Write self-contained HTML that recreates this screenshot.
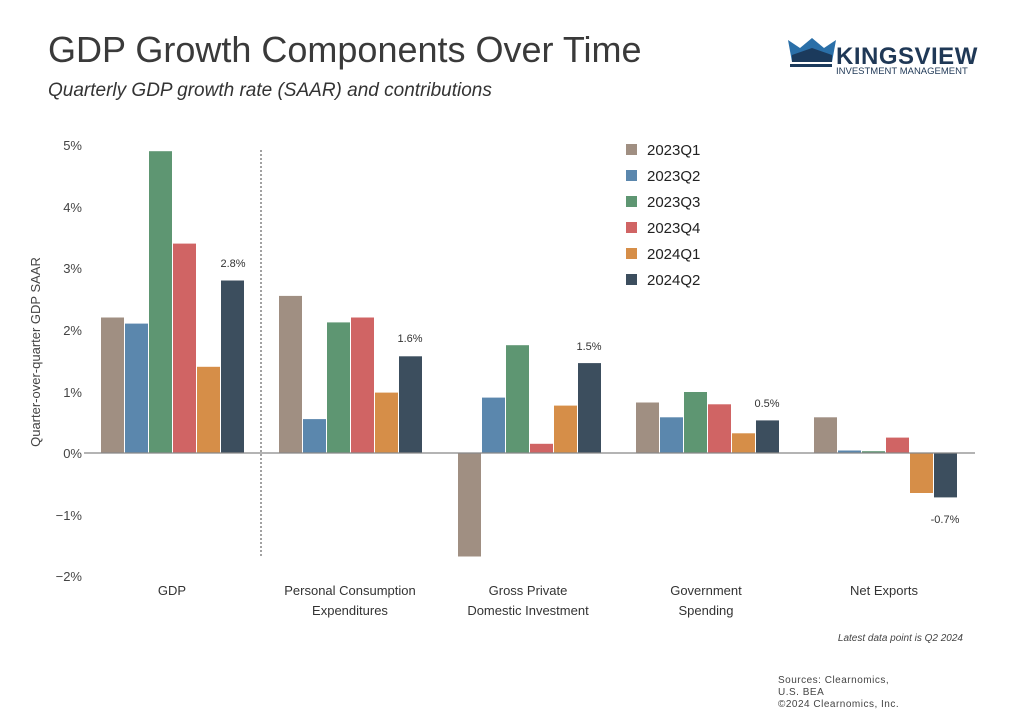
<!DOCTYPE html><html><head><style>body{margin:0;background:#fff}svg{display:block}text{font-family:"Liberation Sans",sans-serif}</style></head><body>
<svg width="1024" height="721" xmlns="http://www.w3.org/2000/svg">
<text x="48" y="62" font-size="36" fill="#3a3a3a">GDP Growth Components Over Time</text>
<text x="48" y="96" font-size="19" font-style="italic" fill="#333">Quarterly GDP growth rate (SAAR) and contributions</text>
<g>
<polygon points="788,40 800,48 812,38 824,48 836,40 832,62 792,62" fill="#2a6fa8"/>
<polygon points="792,55 812,48 832,55 832,62 792,62" fill="#1b3a5c"/>
<rect x="790" y="64" width="42" height="3" fill="#1b3a5c"/>
<text x="836" y="64" font-size="24" font-weight="bold" fill="#1f3856" letter-spacing="0.5">KINGSVIEW</text>
<text x="836" y="74" font-size="9.5" fill="#1f3856">INVESTMENT MANAGEMENT</text>
</g>
<g font-size="13" fill="#444" text-anchor="end">
<text x="82" y="150">5%</text><text x="82" y="212">4%</text><text x="82" y="273">3%</text><text x="82" y="335">2%</text><text x="82" y="397">1%</text><text x="82" y="458">0%</text><text x="82" y="520">−1%</text><text x="82" y="581">−2%</text>
</g>
<text transform="translate(40,352) rotate(-90)" font-size="13" fill="#444" text-anchor="middle">Quarter-over-quarter GDP SAAR</text>
<line x1="261" y1="150" x2="261" y2="556" stroke="#444" stroke-dasharray="2,2"/>
<g>
<rect x="101" y="317.5" width="23" height="135.5" fill="#a08f82"/>
<rect x="125" y="323.6" width="23" height="129.4" fill="#5b87ad"/>
<rect x="149" y="151.2" width="23" height="301.8" fill="#5e9672"/>
<rect x="173" y="243.6" width="23" height="209.4" fill="#d06464"/>
<rect x="197" y="366.8" width="23" height="86.2" fill="#d68e48"/>
<rect x="221" y="280.5" width="23" height="172.5" fill="#3c4e5e"/>
<rect x="279" y="295.9" width="23" height="157.1" fill="#a08f82"/>
<rect x="303" y="419.1" width="23" height="33.9" fill="#5b87ad"/>
<rect x="327" y="322.4" width="23" height="130.6" fill="#5e9672"/>
<rect x="351" y="317.5" width="23" height="135.5" fill="#d06464"/>
<rect x="375" y="392.6" width="23" height="60.4" fill="#d68e48"/>
<rect x="399" y="356.3" width="23" height="96.7" fill="#3c4e5e"/>
<rect x="458" y="453" width="23" height="103.5" fill="#a08f82"/>
<rect x="482" y="397.6" width="23" height="55.4" fill="#5b87ad"/>
<rect x="506" y="345.2" width="23" height="107.8" fill="#5e9672"/>
<rect x="530" y="443.8" width="23" height="9.2" fill="#d06464"/>
<rect x="554" y="405.6" width="23" height="47.4" fill="#d68e48"/>
<rect x="578" y="363.1" width="23" height="89.9" fill="#3c4e5e"/>
<rect x="636" y="402.5" width="23" height="50.5" fill="#a08f82"/>
<rect x="660" y="417.3" width="23" height="35.7" fill="#5b87ad"/>
<rect x="684" y="392" width="23" height="61" fill="#5e9672"/>
<rect x="708" y="404.3" width="23" height="48.7" fill="#d06464"/>
<rect x="732" y="433.3" width="23" height="19.7" fill="#d68e48"/>
<rect x="756" y="420.4" width="23" height="32.6" fill="#3c4e5e"/>
<rect x="814" y="417.3" width="23" height="35.7" fill="#a08f82"/>
<rect x="838" y="450.5" width="23" height="2.5" fill="#5b87ad"/>
<rect x="862" y="451.2" width="23" height="1.8" fill="#5e9672"/>
<rect x="886" y="437.6" width="23" height="15.4" fill="#d06464"/>
<rect x="910" y="453" width="23" height="40" fill="#d68e48"/>
<rect x="934" y="453" width="23" height="44.4" fill="#3c4e5e"/>
</g>
<line x1="84" y1="453" x2="975" y2="453" stroke="#888" stroke-width="1.2"/>
<g font-size="11" fill="#333" text-anchor="middle">
<text x="233" y="267">2.8%</text><text x="410" y="342">1.6%</text><text x="589" y="350">1.5%</text><text x="767" y="407">0.5%</text><text x="945" y="523">-0.7%</text>
</g>
<g font-size="13" fill="#333" text-anchor="middle">
<text x="172" y="595">GDP</text>
<text x="350" y="595">Personal Consumption</text><text x="350" y="615">Expenditures</text>
<text x="528" y="595">Gross Private</text><text x="528" y="615">Domestic Investment</text>
<text x="706" y="595">Government</text><text x="706" y="615">Spending</text>
<text x="884" y="595">Net Exports</text>
</g>
<g font-size="15" fill="#222">
<rect x="626" y="144" width="11" height="11" fill="#a08f82"/><text x="647" y="155">2023Q1</text>
<rect x="626" y="170" width="11" height="11" fill="#5b87ad"/><text x="647" y="181">2023Q2</text>
<rect x="626" y="196" width="11" height="11" fill="#5e9672"/><text x="647" y="207">2023Q3</text>
<rect x="626" y="222" width="11" height="11" fill="#d06464"/><text x="647" y="233">2023Q4</text>
<rect x="626" y="248" width="11" height="11" fill="#d68e48"/><text x="647" y="259">2024Q1</text>
<rect x="626" y="274" width="11" height="11" fill="#3c4e5e"/><text x="647" y="285">2024Q2</text>
</g>
<text x="963" y="641" font-size="10" font-style="italic" fill="#444" text-anchor="end">Latest data point is Q2 2024</text>
<g font-size="10" fill="#444" letter-spacing="0.5"><text x="778" y="683">Sources: Clearnomics,</text><text x="778" y="695">U.S. BEA</text><text x="778" y="707">©2024 Clearnomics, Inc.</text></g>
</svg></body></html>
